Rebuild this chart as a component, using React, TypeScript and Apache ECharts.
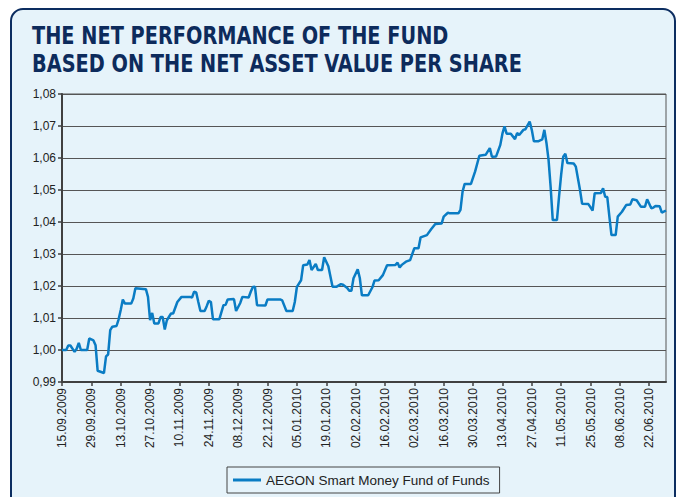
import React, { useEffect, useRef } from 'react';
import * as echarts from 'echarts';

const TITLE_TEXT = 'THE NET PERFORMANCE OF THE FUND\nBASED ON THE NET ASSET VALUE PER SHARE';
const SERIES_NAME = 'AEGON Smart Money Fund of Funds';
const START_DATE = '15.09.2009';
const END_DATE = '30.06.2010';
const Y_MIN = 0.99;
const Y_MAX = 1.08;
const Y_STEP = 0.01;
const TICK_EVERY_DAYS = 14;

const navDates = [
  '15.09.2009', '17.09.2009', '18.09.2009', '19.09.2009', '21.09.2009', '22.09.2009', '23.09.2009', '24.09.2009',
  '27.09.2009', '28.09.2009', '30.09.2009', '01.10.2009', '02.10.2009', '05.10.2009', '06.10.2009', '07.10.2009',
  '08.10.2009', '09.10.2009', '11.10.2009', '12.10.2009', '13.10.2009', '14.10.2009', '15.10.2009', '18.10.2009',
  '19.10.2009', '20.10.2009', '25.10.2009', '26.10.2009', '27.10.2009', '28.10.2009', '29.10.2009', '31.10.2009',
  '01.11.2009', '02.11.2009', '03.11.2009', '04.11.2009', '06.11.2009', '07.11.2009', '09.11.2009', '11.11.2009',
  '15.11.2009', '16.11.2009', '17.11.2009', '18.11.2009', '19.11.2009', '20.11.2009', '22.11.2009', '23.11.2009',
  '24.11.2009', '25.11.2009', '26.11.2009', '29.11.2009', '01.12.2009', '02.12.2009', '03.12.2009', '06.12.2009',
  '07.12.2009', '09.12.2009', '10.12.2009', '13.12.2009', '14.12.2009', '15.12.2009', '16.12.2009', '17.12.2009',
  '21.12.2009', '22.12.2009', '28.12.2009', '29.12.2009', '31.12.2009', '03.01.2010', '04.01.2010', '05.01.2010',
  '07.01.2010', '08.01.2010', '10.01.2010', '11.01.2010', '12.01.2010', '14.01.2010', '15.01.2010', '17.01.2010',
  '18.01.2010', '20.01.2010', '22.01.2010', '24.01.2010', '26.01.2010', '27.01.2010', '29.01.2010', '30.01.2010',
  '31.01.2010', '01.02.2010', '03.02.2010', '04.02.2010', '05.02.2010', '08.02.2010', '10.02.2010', '11.02.2010',
  '13.02.2010', '15.02.2010', '17.02.2010', '21.02.2010', '22.02.2010', '23.02.2010', '24.02.2010', '26.02.2010',
  '28.02.2010', '02.03.2010', '04.03.2010', '05.03.2010', '08.03.2010', '10.03.2010', '12.03.2010', '15.03.2010',
  '16.03.2010', '18.03.2010', '19.03.2010', '23.03.2010', '24.03.2010', '25.03.2010', '26.03.2010', '29.03.2010',
  '31.03.2010', '02.04.2010', '05.04.2010', '07.04.2010', '08.04.2010', '10.04.2010', '12.04.2010', '13.04.2010',
  '14.04.2010', '15.04.2010', '17.04.2010', '19.04.2010', '20.04.2010', '21.04.2010', '23.04.2010', '24.04.2010',
  '26.04.2010', '27.04.2010', '28.04.2010', '30.04.2010', '02.05.2010', '03.05.2010', '04.05.2010', '05.05.2010',
  '06.05.2010', '07.05.2010', '09.05.2010', '10.05.2010', '11.05.2010', '12.05.2010', '13.05.2010', '14.05.2010',
  '17.05.2010', '18.05.2010', '20.05.2010', '21.05.2010', '24.05.2010', '26.05.2010', '27.05.2010', '30.05.2010',
  '31.05.2010', '01.06.2010', '02.06.2010', '03.06.2010', '04.06.2010', '06.06.2010', '07.06.2010', '09.06.2010',
  '11.06.2010', '13.06.2010', '14.06.2010', '16.06.2010', '18.06.2010', '20.06.2010', '21.06.2010', '23.06.2010',
  '24.06.2010', '25.06.2010', '27.06.2010', '28.06.2010', '30.06.2010',
];

const navValues = [
  1.0000, 1.0000, 1.0014, 1.0014, 0.9994, 1.0004, 1.0022, 1.0000,
  1.0000, 1.0036, 1.0030, 1.0015, 0.9935, 0.9928, 0.9980, 0.9986,
  1.0062, 1.0073, 1.0075, 1.0096, 1.0125, 1.0158, 1.0145, 1.0145,
  1.0161, 1.0193, 1.0190, 1.0166, 1.0093, 1.0116, 1.0083, 1.0083,
  1.0103, 1.0103, 1.0064, 1.0093, 1.0114, 1.0114, 1.0150, 1.0166,
  1.0166, 1.0164, 1.0182, 1.0180, 1.0150, 1.0122, 1.0122, 1.0137,
  1.0154, 1.0150, 1.0096, 1.0096, 1.0140, 1.0141, 1.0158, 1.0159,
  1.0122, 1.0147, 1.0166, 1.0164, 1.0182, 1.0197, 1.0198, 1.0140,
  1.0139, 1.0158, 1.0158, 1.0155, 1.0122, 1.0122, 1.0150, 1.0197,
  1.0218, 1.0265, 1.0267, 1.0281, 1.0250, 1.0269, 1.0250, 1.0250,
  1.0290, 1.0262, 1.0198, 1.0198, 1.0206, 1.0204, 1.0194, 1.0185,
  1.0185, 1.0224, 1.0252, 1.0225, 1.0171, 1.0171, 1.0196, 1.0217,
  1.0218, 1.0234, 1.0265, 1.0266, 1.0273, 1.0258, 1.0266, 1.0276,
  1.0281, 1.0318, 1.0318, 1.0352, 1.0359, 1.0377, 1.0394, 1.0395,
  1.0417, 1.0429, 1.0427, 1.0427, 1.0438, 1.0495, 1.0519, 1.0519,
  1.0558, 1.0607, 1.0610, 1.0631, 1.0604, 1.0605, 1.0641, 1.0676,
  1.0699, 1.0676, 1.0676, 1.0659, 1.0678, 1.0672, 1.0688, 1.0690,
  1.0714, 1.0688, 1.0652, 1.0652, 1.0658, 1.0688, 1.0647, 1.0594,
  1.0509, 1.0406, 1.0406, 1.0479, 1.0547, 1.0604, 1.0613, 1.0584,
  1.0583, 1.0573, 1.0500, 1.0457, 1.0456, 1.0436, 1.0490, 1.0491,
  1.0505, 1.0479, 1.0478, 1.0417, 1.0359, 1.0359, 1.0417, 1.0432,
  1.0453, 1.0455, 1.0471, 1.0468, 1.0448, 1.0448, 1.0471, 1.0443,
  1.0445, 1.0450, 1.0449, 1.0429, 1.0436,
];

const pad2 = (n: number) => (n < 10 ? '0' + n : String(n));
const parseDate = (s: string) => {
  const [d, m, y] = s.split('.').map(Number);
  return Date.UTC(y, m - 1, d);
};
const fmtDate = (t: number) => {
  const d = new Date(t);
  return pad2(d.getUTCDate()) + '.' + pad2(d.getUTCMonth() + 1) + '.' + d.getUTCFullYear();
};
const buildDays = (from: string, to: string) => {
  const out: string[] = [];
  for (let t = parseDate(from); t <= parseDate(to); t += 86400000) out.push(fmtDate(t));
  return out;
};

const dayCategories = buildDays(START_DATE, END_DATE);

const FONT = "'Liberation Sans', Arial, sans-serif";
const TITLE_FONT = "'DejaVu Sans Condensed', 'DejaVu Sans', sans-serif";

export default function App() {
  const ref = useRef<HTMLDivElement>(null);

  useEffect(() => {
    if (!ref.current) return;
    const chart = echarts.init(ref.current, undefined, { renderer: 'svg' });
    chart.setOption({
      animation: false,
      backgroundColor: '#ffffff',
      graphic: [
        {
          type: 'rect',
          z: -10,
          silent: true,
          shape: { x: 11, y: 9, width: 664, height: 500, r: 12 },
          style: { fill: '#e6f3fa', stroke: '#0c2d60', lineWidth: 2 },
        },
        {
          type: 'text',
          z: 5,
          silent: true,
          x: 32,
          y: 22,
          scaleX: 0.895,
          style: {
            text: TITLE_TEXT,
            fontFamily: TITLE_FONT,
            fontSize: 24,
            fontWeight: 'bold',
            lineHeight: 28,
            fill: '#0d2b5c',
            verticalAlign: 'top',
            align: 'left',
          },
        },
      ],
      grid: {
        left: 62,
        top: 94,
        right: 11,
        bottom: 115,
        show: true,
        backgroundColor: 'transparent',
        borderColor: '#555555',
        borderWidth: 1,
      },
      legend: {
        left: 227,
        top: 467,
        padding: [6, 10, 6, 6],
        borderColor: '#444444',
        borderWidth: 1,
        itemWidth: 28,
        itemHeight: 3,
        icon: 'rect',
        textStyle: { fontFamily: FONT, fontSize: 13.5, color: '#222222' },
        data: [SERIES_NAME],
      },
      xAxis: {
        type: 'category',
        data: dayCategories,
        boundaryGap: false,
        axisLine: { lineStyle: { color: '#404040', width: 2 } },
        axisTick: { interval: TICK_EVERY_DAYS - 1, length: 4, lineStyle: { color: '#404040', width: 1.5 } },
        axisLabel: {
          interval: TICK_EVERY_DAYS - 1,
          rotate: 90,
          fontFamily: FONT,
          fontSize: 12,
          color: '#222222',
          margin: 6,
        },
        splitLine: { show: false },
      },
      yAxis: {
        type: 'value',
        min: Y_MIN,
        max: Y_MAX,
        interval: Y_STEP,
        axisLine: { show: true, lineStyle: { color: '#404040', width: 2 } },
        axisTick: { show: true, length: 4, lineStyle: { color: '#404040', width: 1.5 } },
        axisLabel: {
          fontFamily: FONT,
          fontSize: 12,
          color: '#222222',
          margin: 6,
          formatter: (v: number) => v.toFixed(2).replace('.', ','),
        },
        splitLine: { lineStyle: { color: '#555555', width: 1 } },
      },
      series: [
        {
          type: 'line',
          name: SERIES_NAME,
          data: navDates.map((d, i) => [d, navValues[i]]),
          symbol: 'none',
          showSymbol: false,
          lineStyle: { color: '#0a7cc4', width: 2.5 },
          itemStyle: { color: '#0a7cc4' },
        },
      ],
    });
    return () => chart.dispose();
  }, []);

  return (
    <div
      ref={ref}
      style={{ position: 'fixed', left: 0, top: 0, width: 677, height: 497 }}
    />
  );
}
